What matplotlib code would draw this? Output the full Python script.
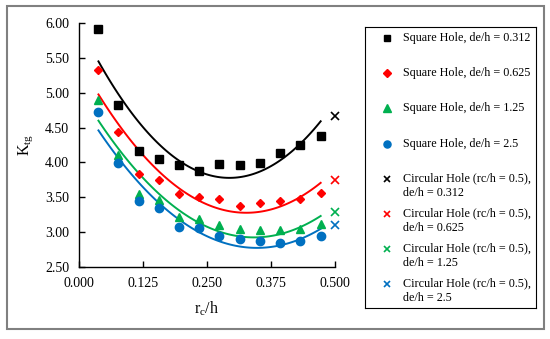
import numpy as np
import matplotlib
matplotlib.use("Agg")
import matplotlib.pyplot as plt
from matplotlib.patches import Rectangle

plt.rcParams['font.family'] = ['Liberation Serif', 'DejaVu Serif']
plt.rcParams['mathtext.fontset'] = 'custom'
plt.rcParams['mathtext.rm'] = 'Liberation Serif'
plt.rcParams['mathtext.it'] = 'Liberation Serif:italic'

# r_c/h for the square holes
rc_h = [0.038, 0.077, 0.117, 0.156, 0.196, 0.235, 0.274, 0.314, 0.353, 0.393, 0.432, 0.472]

# K_tg, square holes
k_0312 = [5.91, 4.82, 4.17, 4.05, 3.97, 3.87, 3.98, 3.97, 3.99, 4.13, 4.25, 4.38]
k_0625 = [5.33, 4.43, 3.83, 3.75, 3.55, 3.50, 3.47, 3.38, 3.42, 3.44, 3.47, 3.56]
k_125 = [4.89, 4.11, 3.55, 3.46, 3.22, 3.19, 3.10, 3.05, 3.03, 3.03, 3.04, 3.11]
k_25 = [4.72, 3.99, 3.44, 3.35, 3.07, 3.06, 2.95, 2.90, 2.88, 2.85, 2.87, 2.94]

# circular hole, rc/h = 0.5
circ_x = 0.5
circ_k = [4.67, 3.75, 3.29, 3.10]

colors = ['black', '#FF0000', '#00B050', '#0070C0']
markers = ['s', 'D', '^', 'o']
msizes = [5.5, 4.5, 6, 6]
square_labels = ['Square Hole, de/h = 0.312', 'Square Hole, de/h = 0.625',
                 'Square Hole, de/h = 1.25', 'Square Hole, de/h = 2.5']
circ_labels = ['Circular Hole (rc/h = 0.5),\nde/h = 0.312', 'Circular Hole (rc/h = 0.5),\nde/h = 0.625',
               'Circular Hole (rc/h = 0.5),\nde/h = 1.25', 'Circular Hole (rc/h = 0.5),\nde/h = 2.5']

fig = plt.figure(figsize=(5.5, 3.39), dpi=100)
fig.patches.append(Rectangle((7/550, 1-329/339), 537/550, 323/339, transform=fig.transFigure,
                             fill=False, edgecolor='#808080', linewidth=1.5))

ax = fig.add_axes([79/550, 1-267/339, 256/550, 244/339])

series = [k_0312, k_0625, k_125, k_25]
for i, k in enumerate(series):
    # 2nd order polynomial trendline
    p = np.polyfit(rc_h, k, 2)
    xs = np.linspace(rc_h[0], rc_h[-1], 100)
    ax.plot(xs, np.polyval(p, xs), color=colors[i], lw=1.4, zorder=2)
    ax.plot(rc_h, k, ls='none', marker=markers[i], ms=msizes[i], color=colors[i], zorder=3)
    ax.plot(circ_x, circ_k[i], ls='none', marker='x', ms=6, mew=1.2, color=colors[i],
            zorder=3, clip_on=False)

ax.set_xlim(0, 0.5)
ax.set_ylim(2.5, 6.0)
ax.set_xticks(np.arange(0, 0.501, 0.125))
ax.set_yticks(np.arange(2.5, 6.01, 0.5))
ax.xaxis.set_major_formatter(plt.FormatStrFormatter('%.3f'))
ax.yaxis.set_major_formatter(plt.FormatStrFormatter('%.2f'))
ax.tick_params(direction='in', length=4, width=1, labelsize=10, pad=7)
for s in ['top', 'right']:
    ax.spines[s].set_visible(False)
for s in ['left', 'bottom']:
    ax.spines[s].set_linewidth(1)
ax.set_xlabel(r'r$_\mathrm{c}$/h', fontsize=11.5, labelpad=7)
ax.set_ylabel(r'K$_\mathrm{tg}$', fontsize=11.5, labelpad=7)

# legend box
lg = fig.add_axes([365/550, 1-308/339, 171/550, 281/339])
lg.set_xlim(365, 536)
lg.set_ylim(308, 27)
lg.set_xticks([])
lg.set_yticks([])
for s in lg.spines.values():
    s.set_linewidth(0.8)
row_y = [38, 73, 108, 144, 179, 214, 249, 284]
for i in range(4):
    lg.plot(387, row_y[i], marker=markers[i], ms=msizes[i] * 0.85, color=colors[i], ls='none')
    lg.text(403, row_y[i], square_labels[i], fontsize=8.7, va='center', ha='left')
    lg.plot(387, row_y[i + 4], marker='x', ms=5, mew=1.2, color=colors[i], ls='none')
    lg.text(403, row_y[i + 4] - 7, circ_labels[i], fontsize=8.7, va='top', ha='left',
            linespacing=1.3)

fig.savefig('out.png', dpi=100)
